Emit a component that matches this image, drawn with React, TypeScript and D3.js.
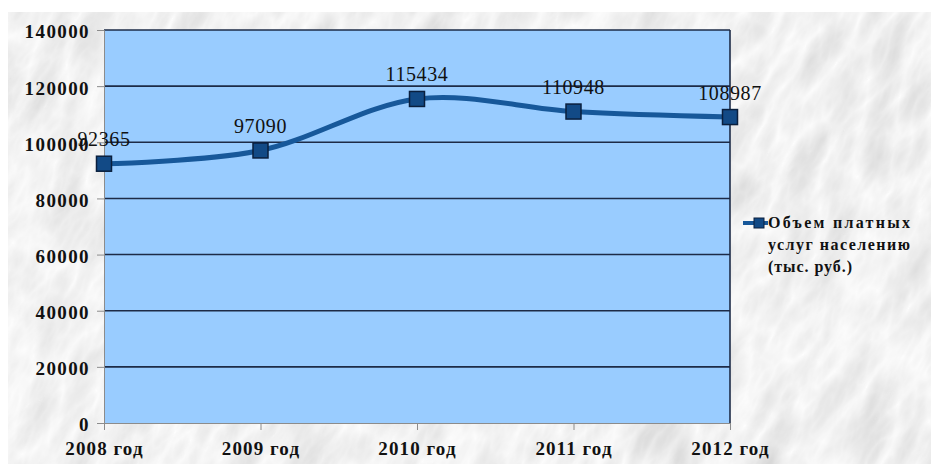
import { useEffect, useRef } from "react";
import * as d3 from "d3";

const years = ["2008 год", "2009 год", "2010 год", "2011 год", "2012 год"];
const values = [92365, 97090, 115434, 110948, 108987];
const yTicks = [0, 20000, 40000, 60000, 80000, 100000, 120000, 140000];
const legendLines = ["Объем платных", "услуг населению", "(тыс. руб.)"];

const W = 931;
const H = 464;
const SERIF = "Liberation Serif";

export default function App() {
  const svgRef = useRef<SVGSVGElement>(null);

  useEffect(() => {
    if (!svgRef.current) return;
    const margin = { top: 30, right: 201, bottom: 41, left: 104 };
    const innerWidth = W - margin.left - margin.right;
    const innerHeight = H - margin.top - margin.bottom;

    const svg = d3.select(svgRef.current);
    svg.selectAll("*").remove();

    // marble-ish background
    const defs = svg.append("defs");
    const filter = defs.append("filter")
      .attr("id", "marble")
      .attr("x", 0).attr("y", 0).attr("width", "100%").attr("height", "100%");
    filter.append("feTurbulence")
      .attr("type", "turbulence")
      .attr("baseFrequency", "0.028 0.011")
      .attr("numOctaves", 4)
      .attr("seed", 7);
    filter.append("feColorMatrix")
      .attr("type", "matrix")
      .attr("values", "-0.34 0 0 0 0.98  -0.34 0 0 0 0.98  -0.34 0 0 0 0.98  0 0 0 0 1");
    defs.append("clipPath").attr("id", "bgclip")
      .append("rect").attr("x", 8).attr("y", 12).attr("width", W - 8).attr("height", H - 12);

    svg.append("rect").attr("width", W).attr("height", H).attr("fill", "#fff");
    svg.append("g").attr("clip-path", "url(#bgclip)")
      .append("rect")
      .attr("x", -300).attr("y", -400).attr("width", 1600).attr("height", 1300)
      .attr("transform", "rotate(28 465 232)")
      .attr("filter", "url(#marble)");

    const g = svg.append("g")
      .attr("transform", `translate(${margin.left},${margin.top})`)
      .attr("font-family", SERIF);

    const x = d3.scalePoint<string>().domain(years).range([0, innerWidth]).padding(0);
    const y = d3.scaleLinear().domain([0, 140000]).range([innerHeight, 0]);

    g.append("rect")
      .attr("width", innerWidth)
      .attr("height", innerHeight)
      .attr("fill", "#99ccff");

    // gridlines
    g.selectAll(".grid")
      .data(yTicks.filter(d => d > 0))
      .join("line")
      .attr("x1", 0).attr("x2", innerWidth)
      .attr("y1", d => y(d)).attr("y2", d => y(d))
      .attr("stroke", "#1d2b47")
      .attr("stroke-width", 1.6);

    g.append("line")
      .attr("x1", innerWidth).attr("x2", innerWidth)
      .attr("y1", 0).attr("y2", innerHeight)
      .attr("stroke", "#1d2b47").attr("stroke-width", 1.6);

    // axes
    const yAxis = g.append("g")
      .call(d3.axisLeft(y).tickValues(yTicks).tickSize(7).tickPadding(7).tickFormat(d => String(d)))
      .attr("font-family", SERIF)
      .attr("font-size", 19)
      .attr("font-weight", "bold");
    yAxis.select(".domain").attr("stroke", "#8c8c8c");
    yAxis.selectAll(".tick line").attr("stroke", "#8c8c8c");
    yAxis.selectAll(".tick text")
      .attr("letter-spacing", 1.4)
      .attr("fill", "#111")
      .attr("dy", "0.42em");

    const xAxis = g.append("g")
      .attr("transform", `translate(0,${innerHeight})`)
      .call(d3.axisBottom(x).tickSize(7).tickPadding(12))
      .attr("font-family", SERIF)
      .attr("font-size", 19)
      .attr("font-weight", "bold");
    xAxis.select(".domain").attr("stroke", "#8c8c8c");
    xAxis.selectAll(".tick line").attr("stroke", "#8c8c8c");
    xAxis.selectAll(".tick text")
      .attr("letter-spacing", 1.1)
      .attr("fill", "#111");

    // smoothed series line
    const line = d3.line<number>()
      .x((_, i) => x(years[i]) as number)
      .y(d => y(d))
      .curve(d3.curveCardinal.tension(0));

    g.append("path")
      .datum(values)
      .attr("d", line)
      .attr("fill", "none")
      .attr("stroke", "#17589a")
      .attr("stroke-width", 5);

    const ms = 15;
    g.selectAll(".pt")
      .data(values)
      .join("rect")
      .attr("x", (_, i) => (x(years[i]) as number) - ms / 2)
      .attr("y", d => y(d) - ms / 2)
      .attr("width", ms).attr("height", ms)
      .attr("fill", "#124a86")
      .attr("stroke", "#0a1f3d")
      .attr("stroke-width", 1.5);

    g.selectAll(".lbl")
      .data(values)
      .join("text")
      .attr("x", (_, i) => x(years[i]) as number)
      .attr("y", d => y(d) - 17.5)
      .attr("text-anchor", "middle")
      .attr("font-family", SERIF)
      .attr("font-size", 20)
      .attr("letter-spacing", 0.6)
      .attr("fill", "#111")
      .text(d => String(d));

    // legend
    const lg = svg.append("g").attr("transform", "translate(743,223)");
    lg.append("line").attr("x1", 0).attr("x2", 25).attr("y1", 0).attr("y2", 0)
      .attr("stroke", "#17589a").attr("stroke-width", 4);
    lg.append("rect").attr("x", 11).attr("y", -5).attr("width", 10).attr("height", 10)
      .attr("fill", "#124a86").attr("stroke", "#0a1f3d").attr("stroke-width", 1);
    const legendWidths = [142, 142, 84];
    lg.selectAll(".lt")
      .data(legendLines)
      .join("text")
      .attr("x", 25)
      .attr("y", (_, i) => 5 + i * 22)
      .attr("font-family", SERIF)
      .attr("font-size", 16)
      .attr("font-weight", "bold")
      .attr("fill", "#111")
      .attr("textLength", (_, i) => legendWidths[i])
      .attr("lengthAdjust", "spacing")
      .text(d => d);
  }, []);

  return (
    <svg
      ref={svgRef}
      width={W}
      height={H}
      style={{ position: "absolute", left: 0, top: 0, display: "block" }}
    />
  );
}
